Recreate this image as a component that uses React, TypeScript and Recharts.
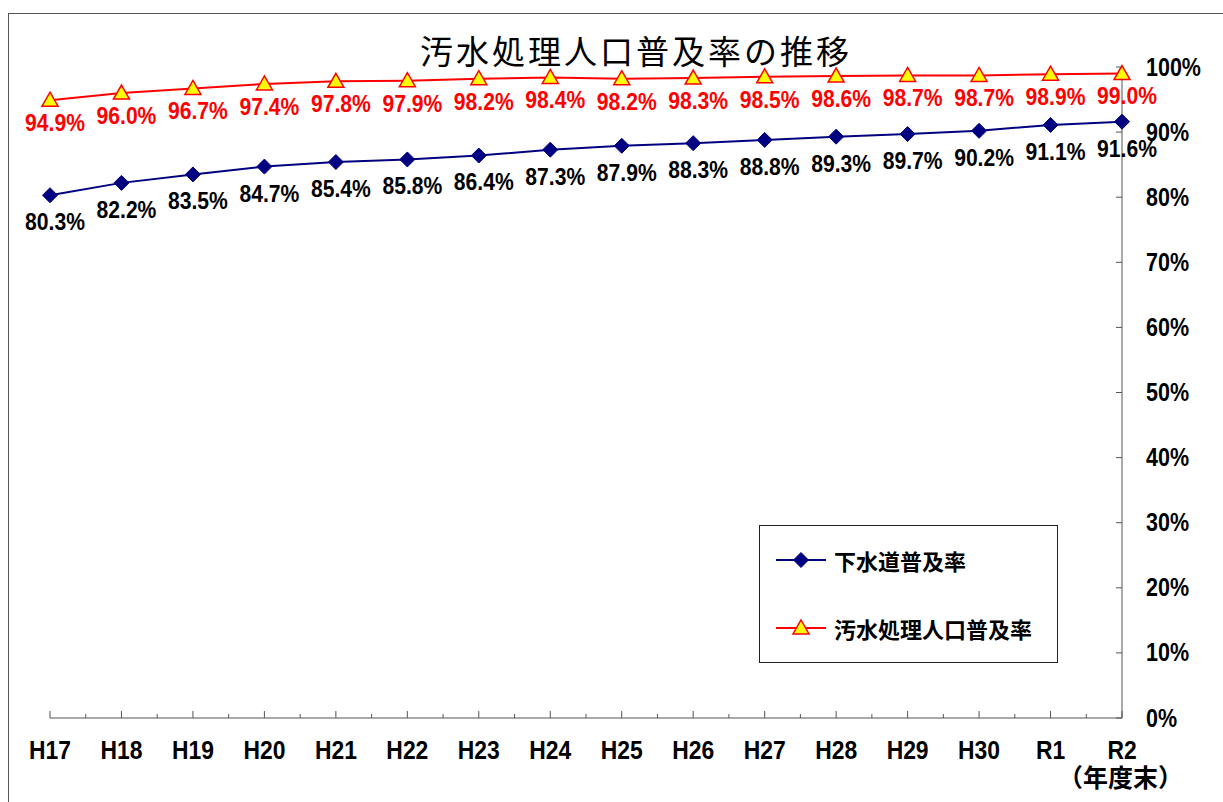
import React from 'react';
import { LineChart, Line, XAxis, YAxis, LabelList } from 'recharts';

const years = ['H17', 'H18', 'H19', 'H20', 'H21', 'H22', 'H23', 'H24', 'H25', 'H26', 'H27', 'H28', 'H29', 'H30', 'R1', 'R2'];
const sewerRate = [80.3, 82.2, 83.5, 84.7, 85.4, 85.8, 86.4, 87.3, 87.9, 88.3, 88.8, 89.3, 89.7, 90.2, 91.1, 91.6];
const treatmentRate = [94.9, 96.0, 96.7, 97.4, 97.8, 97.9, 98.2, 98.4, 98.2, 98.3, 98.5, 98.6, 98.7, 98.7, 98.9, 99.0];
const yTicks = [0, 10, 20, 30, 40, 50, 60, 70, 80, 90, 100];

const data = years.map((year, i) => ({ year, sewer: sewerRate[i], treatment: treatmentRate[i] }));

const W = 1223;
const H = 802;
const margin = { top: 67, right: 21, bottom: 44, left: 50 };
const yAxisWidth = 80;
const xAxisHeight = 40;
const plotWidth = W - margin.left - margin.right - yAxisWidth;
const step = plotWidth / (years.length - 1);

const labelFont = '"Liberation Sans", Arial, sans-serif';
const jpFont = '"Noto Sans CJK JP", sans-serif';
const axisColor = '#555';

// narrow bold text, like the Gothic face of the original
function NarrowText({ x, y, size, sx, anchor, color, children }: any) {
  return (
    <text transform={`translate(${x},${y}) scale(${sx},1)`} textAnchor={anchor} dominantBaseline="central"
      fontFamily={labelFont} fontWeight="bold" fontSize={size} fill={color}>
      {children}
    </text>
  );
}

function XTick(props: any) {
  const { x, y, payload, index } = props;
  return (
    <g>
      <line x1={x} y1={y} x2={x} y2={y - 7} stroke={axisColor} strokeWidth={1} />
      {index < years.length - 1 && (
        <line x1={x + step / 2} y1={y} x2={x + step / 2} y2={y - 4} stroke={axisColor} strokeWidth={1} />
      )}
      <NarrowText x={x} y={y + 32} size={26} sx={0.88} anchor="middle" color="#000">{payload.value}</NarrowText>
    </g>
  );
}

function YTick(props: any) {
  const { x, y, payload } = props;
  return (
    <g>
      <line x1={x} y1={y} x2={x - 6} y2={y} stroke={axisColor} strokeWidth={1} />
      <NarrowText x={x + 24} y={y} size={25} sx={0.86} anchor="start" color="#000">{payload.value}%</NarrowText>
    </g>
  );
}

function Diamond(props: any) {
  const { cx, cy } = props;
  if (cx == null || cy == null) return null;
  const r = 7.5;
  return <polygon points={`${cx},${cy - r} ${cx + r},${cy} ${cx},${cy + r} ${cx - r},${cy}`} fill="#000080" stroke="#000080" />;
}

function Triangle(props: any) {
  const { cx, cy } = props;
  if (cx == null || cy == null) return null;
  return (
    <polygon points={`${cx},${cy - 8} ${cx + 8},${cy + 6} ${cx - 8},${cy + 6}`}
      fill="#FFFF00" stroke="#FF0000" strokeWidth={1.5} />
  );
}

const makeLabel = (color: string, dy: number) => (props: any) => {
  const { x, y, value } = props;
  return (
    <NarrowText x={x + 5} y={y + dy} size={24} sx={0.88} anchor="middle" color={color}>
      {value.toFixed(1)}%
    </NarrowText>
  );
};

function LegendBox() {
  const item = (label: string, color: string, marker: React.ReactNode) => (
    <div style={{ display: 'flex', alignItems: 'center', height: 68 }}>
      <svg width={56} height={20} style={{ marginLeft: 16 }}>
        <line x1={0} y1={10} x2={50} y2={10} stroke={color} strokeWidth={2} />
        {marker}
      </svg>
      <span style={{ fontFamily: jpFont, fontWeight: 'bold', fontSize: 22, color: '#000', marginLeft: 2 }}>{label}</span>
    </div>
  );
  return (
    <div style={{ position: 'absolute', left: 759, top: 525, width: 299, height: 138, border: '1px solid #222', background: '#fff', boxSizing: 'border-box' }}>
      {item('下水道普及率', '#000080', <Diamond cx={25} cy={10} />)}
      {item('汚水処理人口普及率', '#FF0000', <Triangle cx={25} cy={10} />)}
    </div>
  );
}

export default function App() {
  return (
    <div style={{ position: 'absolute', left: 0, top: 0, width: W, height: H, overflow: 'hidden', background: '#fff' }}>
      <div style={{ position: 'absolute', left: 8, top: 13, width: W + 10, height: H + 10, borderTop: '1px solid #555', borderLeft: '1px solid #555' }} />
      <div style={{ position: 'absolute', left: 0, top: 28, width: 1272, textAlign: 'center', fontFamily: jpFont, fontSize: 33, letterSpacing: 3, color: '#000', lineHeight: '44px' }}>
        汚水処理人口普及率の推移
      </div>
      <div style={{ position: 'absolute', left: 0, top: 0 }}>
        <LineChart width={W} height={H} data={data} margin={margin}>
          <XAxis dataKey="year" type="category" padding={{ left: 0, right: 0 }} height={xAxisHeight}
            stroke={axisColor} tickLine={false} tickSize={0} tickMargin={0} tick={<XTick />} interval={0} />
          <YAxis orientation="right" domain={[0, 100]} ticks={yTicks} width={yAxisWidth}
            stroke={axisColor} tickLine={false} tickSize={0} tickMargin={0} tick={<YTick />} interval={0} />
          <Line dataKey="sewer" name="下水道普及率" stroke="#000080" strokeWidth={2}
            dot={<Diamond />} activeDot={false} isAnimationActive={false}>
            <LabelList dataKey="sewer" content={makeLabel('#000', 27)} />
          </Line>
          <Line dataKey="treatment" name="汚水処理人口普及率" stroke="#FF0000" strokeWidth={2}
            dot={<Triangle />} activeDot={false} isAnimationActive={false}>
            <LabelList dataKey="treatment" content={makeLabel('#FF0000', 23)} />
          </Line>
        </LineChart>
      </div>
      <LegendBox />
      <div style={{ position: 'absolute', left: 1058, top: 764, fontFamily: jpFont, fontWeight: 'bold', fontSize: 25, color: '#000', lineHeight: '25px' }}>
        （年度末）
      </div>
    </div>
  );
}
